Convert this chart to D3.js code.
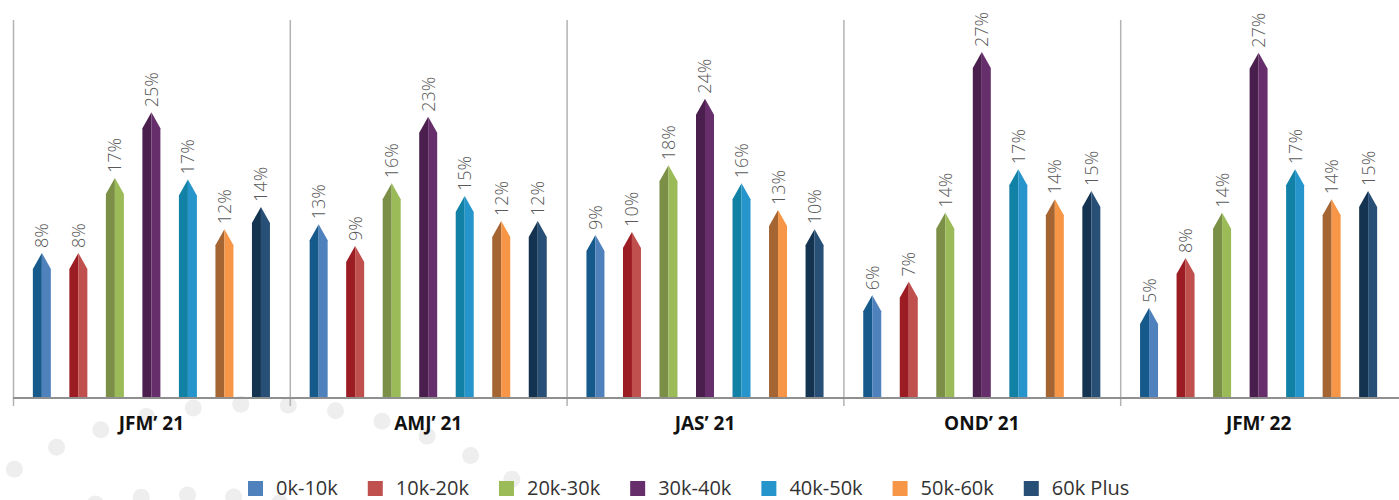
<!DOCTYPE html>
<html>
<head>
<meta charset="utf-8">
<script src="https://cdn.jsdelivr.net/npm/d3@7"></script>
<style>
  body { margin: 0; background: #fff; }
  svg { display: block; font-family: "Open Sans", sans-serif; }
</style>
</head>
<body>
<div id="chart"></div>
<script>
// quarters on the x axis
const quarters = ["JFM’ 21", "AMJ’ 21", "JAS’ 21", "OND’ 21", "JFM’ 22"]
const seriesNames = ["0k-10k", "10k-20k", "20k-30k", "30k-40k", "40k-50k", "50k-60k", "60k Plus"]

// bar heights as drawn (hidden axis, % units), one array per series
const bar0k10k = [11.25, 13.5, 12.65, 7.95, 6.95]
const bar10k20k = [11.25, 11.8, 12.9, 9.0, 10.85]
const bar20k30k = [17.1, 16.7, 18.1, 14.4, 14.4]
const bar30k40k = [22.25, 21.9, 23.3, 26.95, 26.9]
const bar40k50k = [17.0, 15.7, 16.7, 17.8, 17.8]
const bar50k60k = [13.1, 13.75, 14.6, 15.45, 15.45]
const bar60kPlus = [14.85, 13.75, 13.1, 16.1, 16.1]

// percentages printed above the bars
const lab0k10k = [8, 13, 9, 6, 5]
const lab10k20k = [8, 9, 10, 7, 8]
const lab20k30k = [17, 16, 18, 14, 14]
const lab30k40k = [25, 23, 24, 27, 27]
const lab40k50k = [17, 15, 16, 17, 17]
const lab50k60k = [12, 12, 13, 14, 14]
const lab60kPlus = [14, 12, 10, 15, 15]

const barValues = [bar0k10k, bar10k20k, bar20k30k, bar30k40k, bar40k50k, bar50k60k, bar60kPlus]
const labelValues = [lab0k10k, lab10k20k, lab20k30k, lab30k40k, lab40k50k, lab50k60k, lab60kPlus]

// [dark face, light face]
const colors = [
    ["#165a8b", "#4f81bd"],
    ["#9b1c22", "#c0504d"],
    ["#7b8f47", "#9bbb59"],
    ["#4a1f4e", "#662f6b"],
    ["#1181a5", "#2595cc"],
    ["#a56533", "#f79646"],
    ["#143350", "#284f76"]
]

const width = 1399
const height = 500
const baseY = 397
const topY = 20

const svg = d3.select("#chart").append("svg")
    .attr("width", width)
    .attr("height", height)

// decorative dots in the background
const bg = svg.append("g")
function dotArc(cx, cy, r, a0, a1, n) {
    const out = []
    for (let i = 0; i < n; i++) {
        const a = a0 + (a1 - a0) * i / (n - 1)
        out.push([cx + r * Math.sin(a), cy - r * Math.cos(a)])
    }
    return out
}
const dots = dotArc(255, 880, 476, -0.53, 0.57, 12)
    .concat(dotArc(190, 1000, 505, -0.28, 0.27, 7))
bg.selectAll("circle").data(dots).enter().append("circle")
    .attr("cx", d => d[0])
    .attr("cy", d => d[1])
    .attr("r", 8.5)
    .attr("fill", "#eeeeee")

// scales
const x0 = d3.scaleBand()
    .domain(quarters)
    .range([13, 1397])
const x1 = d3.scalePoint()
    .domain(seriesNames)
    .range([0, x0.bandwidth()])
    .padding(0.79)
const y = d3.scaleLinear()
    .domain([0, 30])
    .range([baseY, baseY - 30 * 12.8])

// separators + axis
const axis = svg.append("g")
axis.selectAll("line.sep")
    .data(quarters)
    .enter().append("line")
    .attr("class", "sep")
    .attr("x1", d => x0(d) + 0.5)
    .attr("x2", d => x0(d) + 0.5)
    .attr("y1", topY)
    .attr("y2", baseY + 9)
    .attr("stroke", "#b3b3b3")
    .attr("stroke-width", 1.5)
axis.append("line")
    .attr("x1", 13)
    .attr("x2", width)
    .attr("y1", baseY + 1)
    .attr("y2", baseY + 1)
    .attr("stroke", "#8f8f8f")
    .attr("stroke-width", 2)

// bars
const halfW = 9
const tip = 16
const data = []
seriesNames.forEach((s, si) => {
    quarters.forEach((q, qi) => {
        data.push({ s: s, si: si, q: q, v: barValues[si][qi], label: labelValues[si][qi] })
    })
})

const bars = svg.append("g").selectAll("g.bar")
    .data(data)
    .enter().append("g")
    .attr("class", "bar")
    .attr("transform", d => "translate(" + (x0(d.q) + x1(d.s)) + ",0)")

bars.append("path")
    .attr("fill", d => colors[d.si][0])
    .attr("d", d => {
        const apex = y(d.v)
        return "M" + (-halfW) + "," + baseY + "L" + (-halfW) + "," + (apex + tip) +
            "L0," + apex + "L0," + baseY + "Z"
    })
bars.append("path")
    .attr("fill", d => colors[d.si][1])
    .attr("d", d => {
        const apex = y(d.v)
        return "M0," + baseY + "L0," + apex + "L" + halfW + "," + (apex + tip) +
            "L" + halfW + "," + baseY + "Z"
    })

bars.append("text")
    .attr("transform", d => "translate(0," + (y(d.v) - 5) + ") rotate(-90)")
    .attr("dy", "0.36em")
    .attr("fill", "#595959")
    .style("font-size", "18px")
    .style("font-weight", 300)
    .text(d => d.label + "%")

// quarter labels
svg.append("g").selectAll("text")
    .data(quarters)
    .enter().append("text")
    .attr("x", d => x0(d) + x0.bandwidth() / 2)
    .attr("y", 430)
    .attr("text-anchor", "middle")
    .style("font-size", "19px")
    .style("font-weight", 700)
    .attr("fill", "#111")
    .text(d => d)

// legend
const legend = svg.append("g")
const items = legend.selectAll("g")
    .data(seriesNames)
    .enter().append("g")
items.append("rect")
    .attr("width", 15)
    .attr("height", 15)
    .attr("y", 481)
    .attr("fill", (d, i) => colors[i][1])
items.append("text")
    .attr("x", 28)
    .attr("y", 495)
    .style("font-size", "20px")
    .attr("fill", "#333")
    .text(d => d)
let lx = 0
items.each(function () {
    const g = d3.select(this)
    g.attr("transform", "translate(" + lx + ",0)")
    lx += 28 + g.select("text").node().getComputedTextLength() + 30
})
lx -= 30
legend.attr("transform", "translate(" + Math.round(689 - lx / 2) + ",0)")
</script>
</body>
</html>
